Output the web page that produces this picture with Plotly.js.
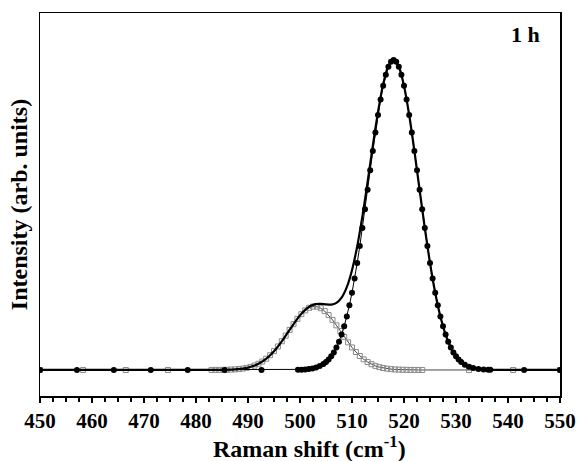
<!DOCTYPE html>
<html>
<head>
<meta charset="utf-8">
<script src="https://cdn.plot.ly/plotly-3.0.1.min.js"></script>
<style>html,body{margin:0;padding:0;background:#fff;}#chart{width:579px;height:461px;}</style>
</head>
<body>
<div id="chart"></div>
<script>
// Peak 1 component (filled circles), ~518 cm-1
const peak1X = [450, 457.1, 464.2, 471.3, 478.4, 485.5, 492.6, 499.6, 500.3, 501.0, 501.7, 502.4, 503.1, 503.8, 504.5,
  505, 505.5, 506, 506.5, 507, 507.5, 508, 508.5, 509, 509.5, 510, 510.5, 511, 511.5, 512, 512.5, 513, 513.5, 514, 514.5,
  515, 515.5, 516, 516.5, 517, 517.5, 518, 518.5, 519, 519.5, 520, 520.5, 521, 521.5, 522, 522.5, 523, 523.5, 524, 524.5,
  525, 525.5, 526, 526.5, 527, 527.5, 528, 528.5, 529, 529.5, 530, 530.5, 531, 531.7, 532.5, 533.3, 534.3, 535.3, 536.2, 536.6, 543.1, 550];
const peak1Y = [0, 0, 0, 0, 0, 0, 0, 0.06, 0.11, 0.19, 0.31, 0.51, 0.81, 1.26, 1.92,
  2.55, 3.37, 4.39, 5.67, 7.24, 9.14, 11.42, 14.11, 17.24, 20.85, 24.94, 29.5, 34.53, 39.98, 45.78, 51.87, 58.13, 64.44, 70.67, 76.66,
  82.26, 87.32, 91.69, 95.24, 97.85, 99.46, 100, 99.46, 97.85, 95.24, 91.69, 87.32, 82.26, 76.66, 70.67, 64.44, 58.13, 51.87, 45.78, 39.98,
  34.53, 29.5, 24.94, 20.85, 17.24, 14.11, 11.42, 9.14, 7.24, 5.67, 4.39, 3.37, 2.55, 1.7, 1.04, 0.62, 0.31, 0.15, 0.08, 0.05, 0, 0];

// Peak 2 component (open squares), ~503 cm-1
const peak2X = [450, 458.3, 466.5, 474.6, 483, 483.75, 484.5, 485.25, 486, 486.75, 487.5, 488.25, 489, 489.75, 490.5, 491.25,
  492, 492.75, 493.5, 494.25, 495, 495.75, 496.5, 497.25, 498, 498.75, 499.5, 500.25, 501, 501.75, 502.5, 503.25, 504, 504.75,
  505.5, 506.25, 507, 507.75, 508.5, 509.25, 510, 510.75, 511.5, 512.25, 513, 513.75, 514.5, 515.25, 516, 516.75, 517.5, 518.25,
  519, 519.75, 520.5, 521.25, 522, 522.75, 523.5, 532.5, 541, 550];
const peak2Y = [0, 0, 0, 0, 0.01, 0.02, 0.03, 0.04, 0.07, 0.12, 0.19, 0.3, 0.45, 0.68, 0.99, 1.42,
  1.99, 2.72, 3.63, 4.76, 6.07, 7.58, 9.26, 11.07, 12.93, 14.77, 16.49, 18.0, 19.21, 20.05, 20.46, 20.42, 19.92, 19.0,
  17.72, 16.17, 14.4, 12.56, 10.7, 8.91, 7.27, 5.79, 4.51, 3.44, 2.56, 1.86, 1.32, 0.92, 0.63, 0.42, 0.27, 0.17,
  0.11, 0.07, 0.04, 0.02, 0.01, 0.01, 0, 0, 0, 0];

// Cumulative fit (solid line)
const totalX = [450, 480, 485, 486, 487, 488, 489, 490, 491, 492, 493, 494, 495, 496, 497, 498, 499, 500, 501, 502, 503, 504,
  505, 506, 507, 508, 509, 510, 511, 512, 513, 514, 515, 516, 517, 518, 519, 520, 521, 522, 523, 524, 525, 526, 527, 528,
  529, 530, 531, 532, 533, 534, 535, 536, 537, 540, 550];
const totalY = [0, 0, 0.04, 0.07, 0.14, 0.26, 0.45, 0.77, 1.26, 1.99, 3.0, 4.35, 6.07, 8.12, 10.46, 12.95, 15.39, 17.62, 19.4, 20.63, 21.26, 21.34,
  21.16, 21.09, 21.64, 23.36, 26.74, 32.21, 39.87, 49.55, 60.69, 72.34, 83.3, 92.32, 98.21, 100.2, 97.96, 91.75, 82.29, 70.67, 58.13, 45.78, 34.53, 24.94, 17.24, 11.42,
  7.24, 4.39, 2.55, 1.42, 0.76, 0.39, 0.19, 0.09, 0.04, 0, 0];

const xTickVals = [450, 460, 470, 480, 490, 500, 510, 520, 530, 540, 550];

const FONT = '"Liberation Serif", "Times New Roman", serif';

const traces = [
  {
    x: peak2X, y: peak2Y, type: 'scatter', mode: 'lines+markers',
    line: {color: '#444', width: 1},
    marker: {symbol: 'square-open', size: 5, color: '#8a8a8a', line: {width: 1, color: '#8a8a8a'}},
    hoverinfo: 'skip'
  },
  {
    x: totalX, y: totalY, type: 'scatter', mode: 'lines',
    line: {color: '#000', width: 2.2, shape: 'spline', smoothing: 0.6},
    hoverinfo: 'skip'
  },
  {
    x: peak1X, y: peak1Y, type: 'scatter', mode: 'lines+markers',
    line: {color: '#000', width: 1},
    marker: {symbol: 'circle', size: 6, color: '#000'},
    hoverinfo: 'skip'
  }
];

const layout = {
  width: 579, height: 461,
  margin: {l: 40, r: 19, t: 13, b: 65},
  paper_bgcolor: '#fff', plot_bgcolor: '#fff',
  showlegend: false,
  xaxis: {
    range: [450, 550],
    tickvals: xTickVals,
    ticktext: xTickVals.map(v => '<b>' + v + '</b>'),
    ticks: 'outside', ticklen: 5, tickwidth: 1.2, tickcolor: '#000',
    minor: {dtick: 2.5, ticks: 'outside', ticklen: 4, tickwidth: 1.2, tickcolor: '#000', showgrid: false},
    showline: true, linecolor: '#000', linewidth: 1.5, mirror: true,
    showgrid: false, zeroline: false,
    tickfont: {family: FONT, size: 21, color: '#000', weight: 'bold'}
  },
  yaxis: {
    range: [-8.4, 115.2],
    showticklabels: false, ticks: '',
    showline: true, linecolor: '#000', linewidth: 1.5, mirror: true,
    showgrid: false, zeroline: false,
    title: {text: '<b>Intensity (arb. units)</b>', font: {family: FONT, size: 24, color: '#000'}, standoff: 4}
  },
  annotations: [
    {
      xref: 'paper', yref: 'paper', x: 0.965, y: 0.943, xanchor: 'right', yanchor: 'middle',
      text: '<b>1 h</b>', showarrow: false, font: {family: FONT, size: 22, color: '#000'}
    },
    {
      xref: 'paper', yref: 'paper', x: 0.519, y: -0.133, xanchor: 'center', yanchor: 'middle',
      text: '<b>Raman shift (cm<sup>-1</sup>)</b>', showarrow: false, font: {family: FONT, size: 24, color: '#000'}
    }
  ]
};

Plotly.newPlot('chart', traces, layout, {displayModeBar: false, staticPlot: true});
</script>
</body>
</html>
